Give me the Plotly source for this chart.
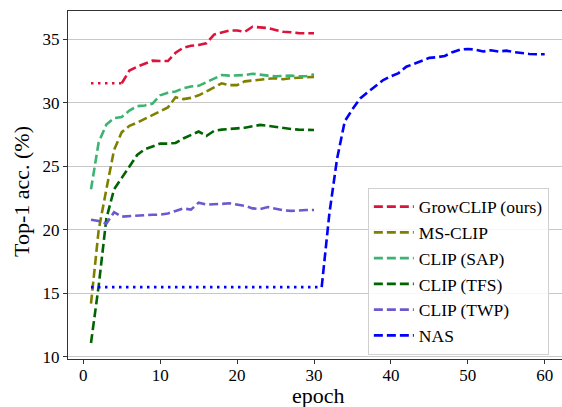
import plotly.graph_objects as go

epochs30 = list(range(1, 31))

grow_pre_epochs = [1, 2, 3, 4, 5]
grow_pre = [31.55, 31.55, 31.55, 31.55, 31.55]
grow_epochs = list(range(5, 31))
grow = [31.55, 32.55, 32.85, 33.1, 33.33, 33.3, 33.3, 33.95, 34.35, 34.5,
        34.57, 34.7, 35.38, 35.55, 35.7, 35.7, 35.6, 36.0, 35.95, 35.9,
        35.75, 35.6, 35.57, 35.5, 35.49, 35.49]

ms_clip = [14.2, 20.0, 23.2, 26.3, 27.7, 28.2, 28.45, 28.75, 29.0, 29.3,
           29.65, 30.45, 30.3, 30.4, 30.6, 30.9, 31.2, 31.55, 31.4, 31.4,
           31.7, 31.78, 31.8, 31.9, 31.95, 31.87, 31.95, 32.0, 32.02, 32.05]

clip_sap = [23.2, 26.9, 28.3, 28.8, 28.9, 29.4, 29.75, 29.8, 29.95, 30.6,
            30.8, 30.9, 31.15, 31.3, 31.35, 31.65, 31.95, 32.2, 32.15, 32.15,
            32.2, 32.3, 32.2, 32.15, 32.1, 32.15, 32.15, 32.1, 32.1, 32.25]

clip_tfs = [11.1, 15.6, 20.9, 23.2, 24.1, 25.0, 25.9, 26.35, 26.6, 26.8,
            26.8, 26.85, 27.2, 27.45, 27.75, 27.4, 27.8, 27.9, 27.93, 28.0,
            28.05, 28.15, 28.27, 28.2, 28.1, 28.0, 27.95, 27.9, 27.87, 27.87]

clip_twp = [20.8, 20.7, 20.5, 21.4, 21.05, 21.1, 21.15, 21.2, 21.2, 21.2,
            21.3, 21.5, 21.7, 21.6, 22.15, 22.0, 22.0, 22.05, 22.1, 22.0,
            21.9, 21.7, 21.65, 21.8, 21.65, 21.55, 21.5, 21.55, 21.57, 21.57]

nas_pre_epochs = list(range(1, 32))
nas_pre = [15.5] * 31
nas_epochs = list(range(31, 61))
nas = [15.5, 21.3, 25.6, 28.55, 29.5, 30.35, 30.85, 31.3, 31.8, 32.1,
       32.35, 32.85, 33.1, 33.3, 33.55, 33.6, 33.7, 34.0, 34.2, 34.25,
       34.2, 34.05, 34.15, 34.05, 34.12, 34.0, 33.9, 33.86, 33.84, 33.83]

DASH = "9px,4px"
DOT = "2.5px,4.5px"
LW = 2.6

fig = go.Figure()

def add(x, y, name, color, dash, show):
    fig.add_trace(go.Scatter(
        x=x, y=y, mode="lines", name=name, legendgroup=name,
        showlegend=show,
        line=dict(color=color, width=LW, dash=dash)))

add(grow_pre_epochs, grow_pre, "GrowCLIP (ours)", "#DC143C", DOT, False)
add(grow_epochs, grow, "GrowCLIP (ours)", "#DC143C", DASH, True)
add(epochs30, ms_clip, "MS-CLIP", "#808000", DASH, True)
add(epochs30, clip_sap, "CLIP (SAP)", "#3CB371", DASH, True)
add(epochs30, clip_tfs, "CLIP (TFS)", "#006400", DASH, True)
add(epochs30, clip_twp, "CLIP (TWP)", "#6A5ACD", DASH, True)
add(nas_pre_epochs, nas_pre, "NAS", "#0000FF", DOT, False)
add(nas_epochs, nas, "NAS", "#0000FF", DASH, True)

FF = "'Liberation Serif', 'Times New Roman', Times, serif"

fig.update_layout(
    width=562, height=407,
    margin=dict(l=68, r=0, t=11, b=48),
    paper_bgcolor="white", plot_bgcolor="white",
    font=dict(family=FF, size=17, color="black"),
    legend=dict(
        x=0.607, y=0.492, xanchor="left", yanchor="top",
        bgcolor="rgba(255,255,255,0.85)", bordercolor="#d0d0d0", borderwidth=1,
        font=dict(family=FF, size=17.5, color="black"),
        itemwidth=40, tracegroupgap=0,
    ),
    xaxis=dict(
        range=[-1.99, 62.25], tickmode="array",
        tickvals=[0, 10, 20, 30, 40, 50, 60],
        showgrid=False, zeroline=False, automargin=False,
        showline=True, linecolor="#333333", linewidth=1.2, mirror=True,
        ticks="outside", ticklen=4, tickcolor="#333333",
        ticklabelstandoff=-4,
        tickfont=dict(family=FF, size=17, color="black"),
    ),
    yaxis=dict(
        range=[9.84, 37.24], tickmode="array",
        tickvals=[10, 15, 20, 25, 30, 35],
        showgrid=True, gridcolor="#c8c8c8", gridwidth=1.3,
        zeroline=False, automargin=False,
        showline=True, linecolor="#333333", linewidth=1.2, mirror=False,
        ticks="outside", ticklen=4, tickcolor="#333333",
        tickfont=dict(family=FF, size=17, color="black"),
    ),
    annotations=[
        dict(text="epoch", xref="paper", yref="paper", x=0.508, y=-0.104,
             xanchor="center", yanchor="middle", showarrow=False,
             font=dict(family=FF, size=22, color="black")),
        dict(text="Top-1 acc. (%)", xref="paper", yref="paper", x=-0.093, y=0.48,
             xanchor="center", yanchor="middle", showarrow=False, textangle=-90,
             font=dict(family=FF, size=22, color="black")),
    ],
)

fig.write_html("out.html",
               config={"displayModeBar": False},
               post_script="document.body.style.margin='0';document.body.style.padding='0';")
